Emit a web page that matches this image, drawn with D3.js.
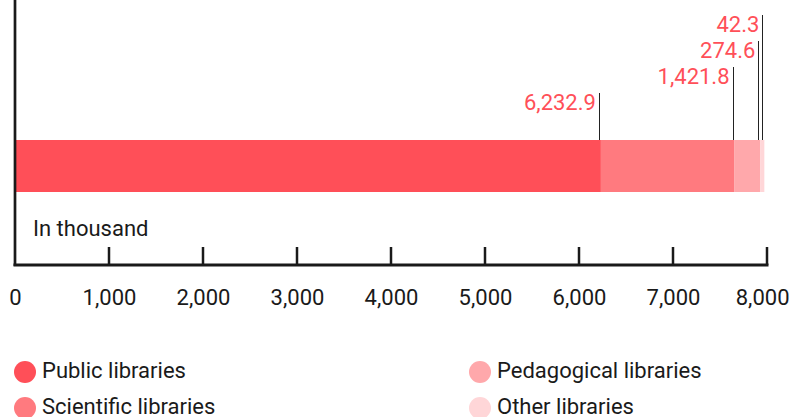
<!DOCTYPE html>
<html><head><meta charset="utf-8">
<script src="https://cdn.jsdelivr.net/npm/d3@7"></script>
<style>body{margin:0;background:#fff}svg{display:block;font-family:Roboto,sans-serif}</style>
</head><body><div id="c"></div>
<script>
const categories = ["Public libraries","Scientific libraries","Pedagogical libraries","Other libraries"];
const values = [6232.9, 1421.8, 274.6, 42.3];
const valueLabels = ["6,232.9","1,421.8","274.6","42.3"];
const colors = ["#ff4f58","#ff7a7f","#ffa8ab","#ffd6d8"];
const tickValues = [0,1000,2000,3000,4000,5000,6000,7000,8000];
const labelBaselines = [110, 84, 58, 32];

const W=793,H=417,FS=22,INK="#1a1a1a";
const svg=d3.select("#c").append("svg").attr("width",W).attr("height",H);
const x=d3.scaleLinear().domain([0,8000]).range([15,767]);
let cum=0;
const segs=values.map((v,i)=>{const s={i,v,x0:cum,x1:cum+v};cum+=v;return s;});
const barY=140,barH=52;
svg.selectAll("rect.seg").data(segs).enter().append("rect")
  .attr("x",d=>x(d.x0)).attr("y",barY).attr("width",d=>x(d.x1)-x(d.x0)).attr("height",barH)
  .attr("fill",d=>colors[d.i]);
// leader lines
svg.selectAll("line.lead").data(segs).enter().append("line")
  .attr("x1",d=>Math.round(x(d.x1))-1.5).attr("x2",d=>Math.round(x(d.x1))-1.5)
  .attr("y1",d=>labelBaselines[d.i]-17).attr("y2",barY)
  .attr("stroke","#222").attr("stroke-width",1);
svg.selectAll("text.lab").data(segs).enter().append("text")
  .attr("x",d=>x(d.x1)-5).attr("y",d=>labelBaselines[d.i])
  .attr("text-anchor","end").attr("font-size",FS).attr("fill","#ff4f58")
  .text(d=>valueLabels[d.i]);
// axis
const ax=svg.append("g").attr("transform","translate(0,265)")
  .call(d3.axisBottom(x).tickValues(tickValues).tickSize(0).tickFormat(d3.format(",")));
ax.select(".domain").remove();
ax.selectAll("text").attr("font-size",FS).attr("fill",INK).attr("dy",0).attr("y",40).style("font-family","Roboto,sans-serif");
// keep last tick label inside the frame
ax.selectAll(".tick").each(function(d){
  const t=d3.select(this).select("text");
  const w=this.querySelector("text").getComputedTextLength();
  const cx=x(d);
  if(cx+w/2>W-4){t.attr("x",(W-4)-(cx+w/2));}
});
svg.append("line").attr("x1",x(0)-1.5).attr("x2",x(8000)+1.5).attr("y1",265).attr("y2",265).attr("stroke",INK).attr("stroke-width",3);
svg.selectAll("line.tk").data(tickValues.slice(1)).enter().append("line")
  .attr("x1",d=>x(d)).attr("x2",d=>x(d)).attr("y1",247).attr("y2",265).attr("stroke",INK).attr("stroke-width",2.5);
svg.append("line").attr("x1",x(0)).attr("x2",x(0)).attr("y1",0).attr("y2",266).attr("stroke",INK).attr("stroke-width",2.7);
svg.append("text").attr("x",33).attr("y",236).attr("font-size",FS).attr("fill",INK).text("In thousand");
// legend
const leg=svg.selectAll("g.leg").data(categories).enter().append("g")
  .attr("transform",(d,i)=>`translate(${i<2?25:480},${i%2===0?372:408})`);
leg.append("circle").attr("r",11).attr("cx",0).attr("cy",0).attr("fill",(d,i)=>colors[i]);
leg.append("text").attr("x",17).attr("y",6).attr("font-size",FS).attr("fill",INK).text(d=>d);
</script></body></html>
